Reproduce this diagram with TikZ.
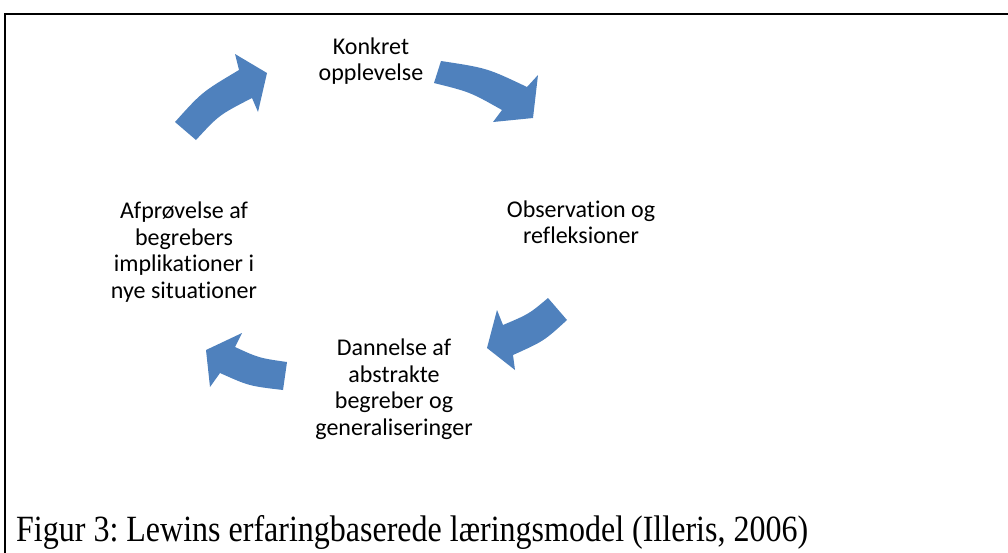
\documentclass[tikz,border=0pt]{standalone}
\usepackage{fontspec}
\setmainfont{Carlito}[Ligatures=NoCommon]
\newfontfamily\capfont{Liberation Serif}[FakeStretch=0.865]
\definecolor{arrowblue}{HTML}{4F81BD}
\begin{document}
\frenchspacing
\begin{tikzpicture}[x=1pt,y=-1pt,
  blockarrow/.style={fill=arrowblue,draw=none},
  lbl/.style={align=center,font=\fontsize{24}{26.5}\selectfont,inner sep=0pt},
  frameline/.style={draw=black,line width=1.6pt}]
\useasboundingbox (0,0) rectangle (1008,552);
\draw[frameline] (5,560) -- (5,14) -- (1015,14);
% arrow 1
\fill[blockarrow] (175,122) .. controls (202,92) .. (239,70) -- (235,54) -- (267,73) -- (258,112) -- (252,98) .. controls (219,115) .. (196,140) -- cycle;
% arrow 2
\fill[blockarrow] (441,61) .. controls (487,68) .. (527,87) -- (538,75) -- (533,118) -- (493,122) -- (502,110) .. controls (470,92) .. (434,83) -- cycle;
% arrow 3
\fill[blockarrow] (567,320) .. controls (544,341) .. (513,355) -- (515,370) -- (487,348) -- (497,310) -- (503,325) .. controls (529,314) .. (548,298) -- cycle;
% arrow 4
\fill[blockarrow] (283,390) .. controls (249,386) .. (220,373) -- (210,387) -- (206,350) -- (242,333) -- (235,347) .. controls (259,358) .. (287,362) -- cycle;
\node[lbl] (konkret) at (371,61) {Konkret\\opplevelse};
\node[lbl] (obs) at (581,222) {Observation og\\refleksioner};
\node[lbl] (afp) at (184,252) {Afprøvelse af\\begrebers\\implikationer i\\nye situationer};
\node[lbl] (dann) at (394,389) {Dannelse af\\abstrakte\\begreber og\\generaliseringer};
\node[anchor=base west,inner sep=0pt,font=\capfont\fontsize{37}{40}\selectfont] (cap) at (16,541.5) {Figur 3: Lewins erfaringbaserede læringsmodel (Illeris, 2006)};
\end{tikzpicture}
\end{document}
